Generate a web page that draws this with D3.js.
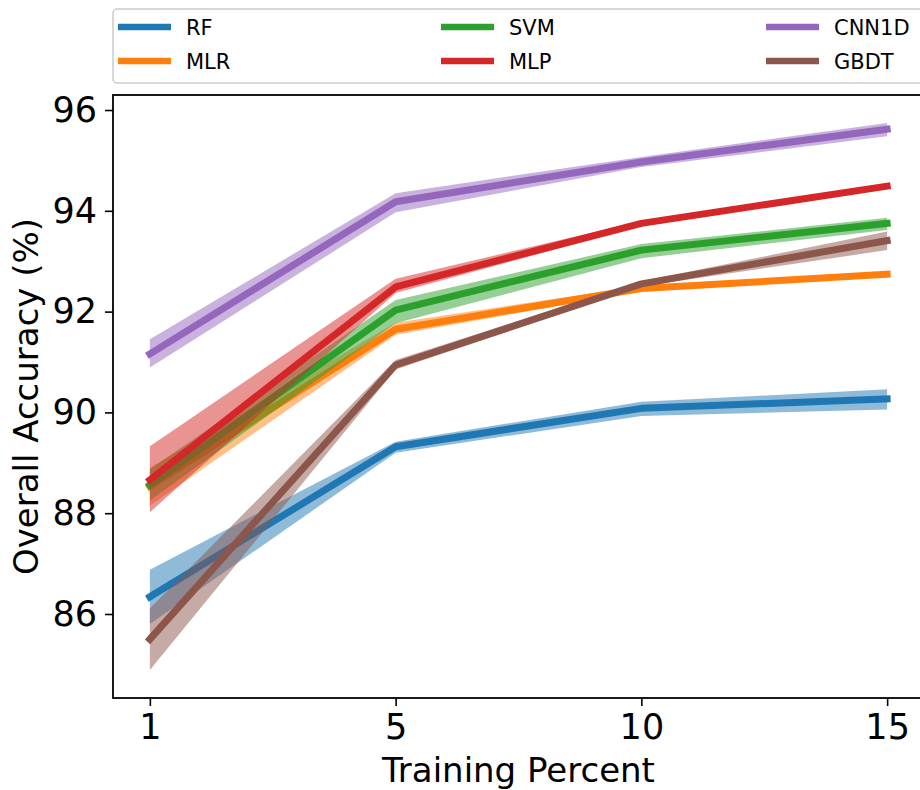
<!DOCTYPE html>
<html lang="en">
  <head>
    <meta charset="utf-8">
    <title>Overall Accuracy vs Training Percent</title>
    <script type="text/javascript" src="https://cdn.jsdelivr.net/npm/d3@7"></script>
    <style type="text/css">
      body { margin: 0; background: #fff; }
      text { font-family: "DejaVu Sans", sans-serif; }
    </style>
  </head>
  <body>
    <script type="text/javascript">

      //Width and height
      var w = 920;
      var h = 790;

      //Data
      var percents = ["1", "5", "10", "15"];
      var models = ["RF", "MLR", "SVM", "MLP", "CNN1D", "GBDT"];
      var colors = ["#1f77b4", "#ff7f0e", "#2ca02c", "#d62728", "#9467bd", "#8c564b"];

      var rfMean    = [86.34, 89.32, 90.08, 90.27];
      var rfLow     = [85.80, 89.20, 89.93, 90.06];
      var rfHigh    = [86.88, 89.42, 90.21, 90.46];

      var mlrMean   = [88.53, 91.65, 92.46, 92.74];
      var mlrLow    = [88.15, 91.54, 92.41, 92.69];
      var mlrHigh   = [88.90, 91.78, 92.51, 92.79];

      var svmMean   = [88.56, 92.03, 93.22, 93.75];
      var svmLow    = [88.25, 91.77, 93.06, 93.62];
      var svmHigh   = [88.87, 92.23, 93.34, 93.86];

      var mlpMean   = [88.66, 92.49, 93.75, 94.49];
      var mlpLow    = [88.02, 92.37, 93.70, 94.45];
      var mlpHigh   = [89.33, 92.65, 93.80, 94.53];

      var cnnMean   = [91.16, 94.18, 94.97, 95.62];
      var cnnLow    = [90.89, 93.97, 94.87, 95.48];
      var cnnHigh   = [91.45, 94.35, 95.07, 95.74];

      var gbdtMean  = [85.50, 90.94, 92.55, 93.41];
      var gbdtLow   = [84.89, 90.85, 92.50, 93.22];
      var gbdtHigh  = [86.11, 91.04, 92.60, 93.59];

      var yTicks = [86, 88, 90, 92, 94, 96];

      var series = [
        { name: models[0], mean: rfMean,   low: rfLow,   high: rfHigh },
        { name: models[1], mean: mlrMean,  low: mlrLow,  high: mlrHigh },
        { name: models[2], mean: svmMean,  low: svmLow,  high: svmHigh },
        { name: models[3], mean: mlpMean,  low: mlpLow,  high: mlpHigh },
        { name: models[4], mean: cnnMean,  low: cnnLow,  high: cnnHigh },
        { name: models[5], mean: gbdtMean, low: gbdtLow, high: gbdtHigh }
      ];

      //Plot area (right edge runs past the window, as in the original)
      var plotL = 113, plotR = 924, plotT = 95, plotB = 698;

      var x = d3.scalePoint()
                .domain(percents)
                .range([plotL, plotR])
                .padding(0.15);

      var y = d3.scaleLinear()
                .domain([84.333, 96.298])
                .range([plotB, plotT]);

      var color = d3.scaleOrdinal(models, colors);

      //Create SVG element
      var svg = d3.select("body")
                  .append("svg")
                  .attr("width", w)
                  .attr("height", h);

      var area = d3.area()
                   .x(function(d) { return x(d.p); })
                   .y0(function(d) { return y(d.lo); })
                   .y1(function(d) { return y(d.hi); });

      var line = d3.line()
                   .x(function(d) { return x(d.p); })
                   .y(function(d) { return y(d.v); });

      series.forEach(function(s) {
        var pts = percents.map(function(p, i) {
          return { p: p, v: s.mean[i], lo: s.low[i], hi: s.high[i] };
        });

        svg.append("path")
           .datum(pts)
           .attr("d", area)
           .style("fill", color(s.name))
           .style("fill-opacity", 0.5);

        svg.append("path")
           .datum(pts)
           .attr("d", line)
           .style("fill", "none")
           .style("stroke", color(s.name))
           .style("stroke-width", 7)
           .style("stroke-linecap", "square")
           .style("stroke-linejoin", "round");
      });

      //Axes
      var xAxis = svg.append("g")
                     .attr("transform", "translate(0," + plotB + ")")
                     .call(d3.axisBottom(x).tickSize(8).tickPadding(8));

      var yAxis = svg.append("g")
                     .attr("transform", "translate(" + plotL + ",0)")
                     .call(d3.axisLeft(y).tickValues(yTicks).tickSize(8).tickPadding(8));

      [xAxis, yAxis].forEach(function(a) {
        a.select(".domain").remove();
        a.selectAll(".tick line").style("stroke", "#000").style("stroke-width", 1.6);
        a.selectAll(".tick text")
         .style("font-family", "DejaVu Sans")
         .style("font-size", "35px")
         .style("fill", "#000");
      });

      //Frame
      svg.append("rect")
         .attr("x", plotL)
         .attr("y", plotT)
         .attr("width", plotR - plotL)
         .attr("height", plotB - plotT)
         .style("fill", "none")
         .style("stroke", "#000")
         .style("stroke-width", 1.8);

      //Axis labels
      svg.append("text")
         .attr("x", (plotL + plotR) / 2)
         .attr("y", 782)
         .attr("text-anchor", "middle")
         .style("font-size", "34px")
         .text("Training Percent");

      svg.append("text")
         .attr("transform", "translate(38," + ((plotT + plotB) / 2) + ") rotate(-90)")
         .attr("text-anchor", "middle")
         .style("font-size", "34px")
         .text("Overall Accuracy (%)");

      //Legend
      svg.append("rect")
         .attr("x", 113)
         .attr("y", 9)
         .attr("width", 830)
         .attr("height", 74)
         .attr("rx", 4)
         .style("fill", "#fff")
         .style("fill-opacity", 0.8)
         .style("stroke", "#cccccc")
         .style("stroke-width", 1.5);

      var colX = [118, 441, 766];
      var rowY = [27, 61];

      var legend = svg.selectAll("g.legend")
                      .data(models)
                      .enter()
                      .append("g")
                      .attr("class", "legend")
                      .attr("transform", function(d, i) {
                        return "translate(" + colX[Math.floor(i / 2)] + "," + rowY[i % 2] + ")";
                      });

      legend.append("line")
            .attr("x1", 0)
            .attr("x2", 53)
            .style("stroke", function(d) { return color(d); })
            .style("stroke-width", 6.5);

      legend.append("text")
            .attr("x", 68)
            .attr("y", 7.5)
            .style("font-size", "21px")
            .text(function(d) { return d; });

    </script>
  </body>
</html>
